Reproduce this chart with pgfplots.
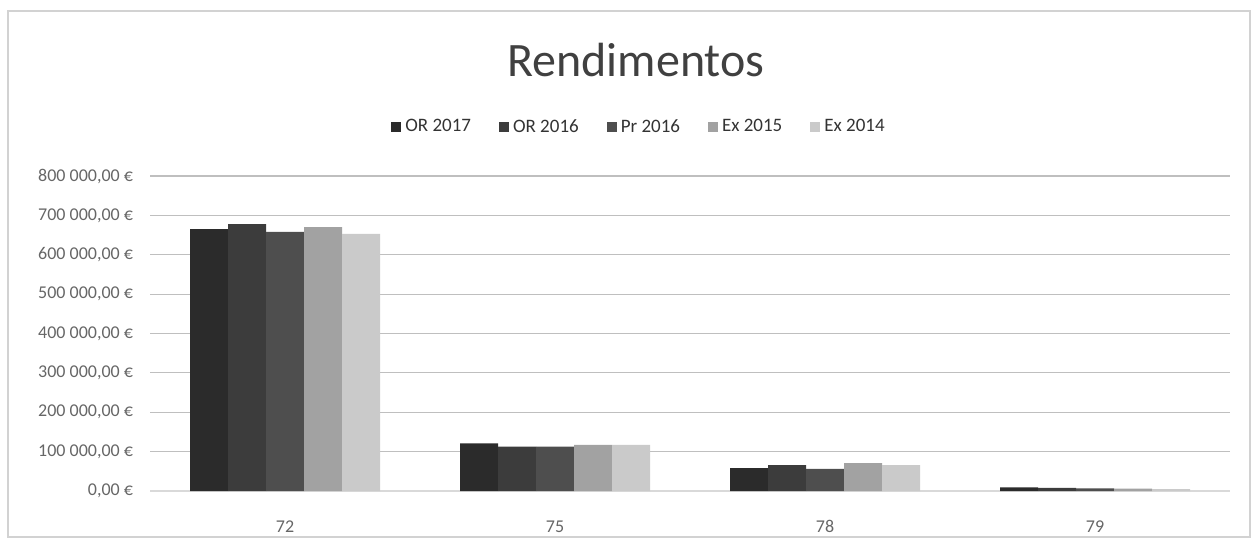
\documentclass[border=0pt]{standalone}
\usepackage{pgfplots}
\pgfplotsset{compat=1.18}
\usepackage{fontspec}
\setmainfont{Carlito}
\definecolor{cA}{HTML}{2B2B2B}
\definecolor{cB}{HTML}{3C3C3C}
\definecolor{cC}{HTML}{4E4E4E}
\definecolor{cD}{HTML}{A2A2A2}
\definecolor{cE}{HTML}{CACACA}
\definecolor{txt}{HTML}{666666}
\definecolor{grid}{HTML}{D9D9D9}
\begin{document}
\begin{tikzpicture}
\useasboundingbox (0,0) rectangle (628.5pt,271.5pt);
\draw[gray!35, line width=0.6pt] (4pt,3pt) rectangle (625pt,266pt);
\node[font=\fontsize{24}{27}\selectfont, text=black!75] at (318pt,241.5pt) {Rendimentos};
\begin{axis}[
  at={(75pt,26pt)}, anchor=south west,
  scale only axis, width=540pt, height=157.5pt,
  ybar=0pt, bar width=19pt,
  xmin=-0.5, xmax=3.5, ymin=0, ymax=800000,
  xtick=data, xticklabels={72,75,78,79},
  scaled y ticks=false,
  ytick={0,100000,200000,300000,400000,500000,600000,700000,800000},
  yticklabels={{0,00 €},{100 000,00 €},{200 000,00 €},{300 000,00 €},{400 000,00 €},{500 000,00 €},{600 000,00 €},{700 000,00 €},{800 000,00 €}},
  xmajorgrids=false, ymajorgrids=true, grid style={grid, line width=0.6pt},
  axis line style={draw=none},
  axis x line*=bottom, axis y line*=left,
  x axis line style={draw=grid, line width=0.6pt},
  xtick style={draw=none}, ytick style={draw=none},
  tick label style={font=\fontsize{9}{10}\selectfont, text=txt},
  yticklabel style={xshift=-5pt},
  xticklabel style={yshift=-7pt},
  /pgf/number format/assume math mode=true,
  legend columns=5,
  legend style={at={(0.4537,1.155)}, anchor=center, draw=none, fill=none,
    font=\fontsize{9.5}{11}\selectfont, text=black!80,
    /tikz/every even column/.append style={column sep=12pt}},
  legend image code/.code={\fill[#1] (0pt,-2.5pt) rectangle (5pt,2.5pt);},
]
\addplot[fill=cA, draw=none] coordinates {(0,665000) (1,121000) (2,58000) (3,9000)};
\addplot[fill=cB, draw=none] coordinates {(0,678000) (1,113000) (2,66000) (3,8000)};
\addplot[fill=cC, draw=none] coordinates {(0,658000) (1,113000) (2,56000) (3,7000)};
\addplot[fill=cD, draw=none] coordinates {(0,670000) (1,117000) (2,71000) (3,6000)};
\addplot[fill=cE, draw=none] coordinates {(0,653000) (1,117000) (2,66000) (3,5000)};
\legend{OR 2017, OR 2016, Pr 2016, Ex 2015, Ex 2014}
\end{axis}
\end{tikzpicture}
\end{document}
